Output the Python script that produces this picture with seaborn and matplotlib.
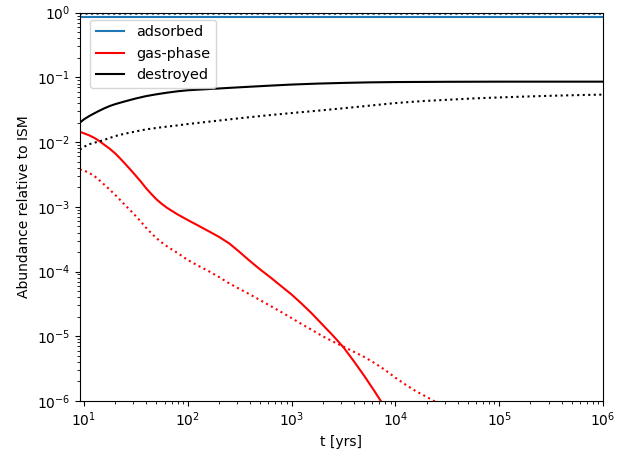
import matplotlib
matplotlib.use("Agg")
import matplotlib.pyplot as plt
import seaborn as sns

# ---------------------------------------------------------------------------
# Data
# ---------------------------------------------------------------------------

t_ads = [9.15, 1e6]
ads_solid = [0.87, 0.87]
ads_dotted = [0.94, 0.94]

t_gas_solid = [9.12, 11.2, 12.6, 14.1, 15.8, 17.8, 20.0, 22.4, 25.1, 28.2,
               31.6, 35.5, 39.8, 44.7, 50.1, 56.2, 63.1, 79.4, 100, 126,
               158, 200, 251, 316, 398, 501, 631, 794, 1000, 1259,
               1585, 1995, 2512, 3162, 3981, 5012, 6310, 7943]
gas_solid = [1.445e-2, 1.274e-2, 1.161e-2, 1.035e-2, 9.02e-3, 7.85e-3, 6.68e-3,
             5.56e-3, 4.57e-3, 3.72e-3, 3.02e-3, 2.43e-3, 1.93e-3, 1.57e-3,
             1.30e-3, 1.11e-3, 9.66e-4, 7.67e-4, 6.24e-4, 5.13e-4, 4.22e-4,
             3.43e-4, 2.72e-4, 2.00e-4, 1.45e-4, 1.07e-4, 8.04e-5, 5.96e-5,
             4.42e-5, 3.16e-5, 2.21e-5, 1.50e-5, 1.02e-5, 6.76e-6, 4.12e-6,
             2.45e-6, 1.41e-6, 7.94e-7]

t_gas_dotted = [9.12, 10.0, 11.2, 12.6, 14.1, 15.8, 17.8, 20.0, 22.4, 25.1,
                28.2, 31.6, 35.5, 39.8, 44.7, 50.1, 56.2, 63.1, 79.4, 100,
                126, 158, 200, 251, 316, 398, 501, 631, 794, 1000,
                1259, 1585, 1995, 2512, 3162, 3981, 5012, 6310, 7943, 10000,
                12589, 15849, 19953, 25119]
gas_dotted = [3.76e-3, 3.63e-3, 3.35e-3, 2.99e-3, 2.57e-3, 2.18e-3, 1.83e-3,
              1.53e-3, 1.27e-3, 1.05e-3, 8.71e-4, 7.19e-4, 5.86e-4, 4.73e-4,
              3.89e-4, 3.26e-4, 2.81e-4, 2.45e-4, 1.94e-4, 1.51e-4, 1.23e-4,
              1.02e-4, 8.22e-5, 6.56e-5, 5.37e-5, 4.42e-5, 3.59e-5, 2.92e-5,
              2.37e-5, 1.91e-5, 1.53e-5, 1.24e-5, 1.00e-5, 8.26e-6, 6.92e-6,
              5.75e-6, 4.79e-6, 3.85e-6, 3.02e-6, 2.29e-6, 1.78e-6, 1.41e-6,
              1.16e-6, 9.44e-7]

t_des_solid = [9.14, 10.0, 11.2, 12.6, 14.1, 15.8, 17.8, 20.0, 25.1, 31.6,
               39.8, 50.1, 63.1, 79.4, 100, 158, 251, 398, 631, 1000,
               1778, 3162, 5623, 10000, 31623, 100000, 1e6]
des_solid = [0.0199, 0.0224, 0.0251, 0.0278, 0.0305, 0.0333, 0.0361, 0.0385,
             0.0427, 0.0471, 0.0513, 0.0547, 0.0579, 0.0608, 0.0631, 0.0658,
             0.0687, 0.0716, 0.0745, 0.0773, 0.0800, 0.0820, 0.0836, 0.0845,
             0.0853, 0.0857, 0.0857]

t_des_dotted = [9.14, 10.0, 11.2, 12.6, 14.1, 15.8, 20.0, 25.1, 31.6, 39.8,
                56.2, 79.4, 100, 178, 316, 562, 1000, 1778, 3162, 5623,
                10000, 17783, 31623, 56234, 100000, 177828, 316228, 562341, 1e6]
des_dotted = [7.64e-3, 8.41e-3, 9.23e-3, 9.77e-3, 1.021e-2, 1.084e-2, 1.236e-2,
              1.352e-2, 1.459e-2, 1.570e-2, 1.694e-2, 1.807e-2, 1.897e-2,
              2.104e-2, 2.333e-2, 2.570e-2, 2.805e-2, 3.048e-2, 3.327e-2,
              3.648e-2, 4.000e-2, 4.285e-2, 4.498e-2, 4.721e-2, 4.887e-2,
              5.047e-2, 5.188e-2, 5.309e-2, 5.408e-2]

# ---------------------------------------------------------------------------
# Plot
# ---------------------------------------------------------------------------

fig, ax = plt.subplots(figsize=(6.34, 4.5), dpi=100)
fig.subplots_adjust(left=0.126, right=0.951, top=0.972, bottom=0.109)

sns.lineplot(x=t_ads, y=ads_solid, ax=ax, color="#1f77b4", lw=1.5, label="adsorbed")
sns.lineplot(x=t_gas_solid, y=gas_solid, ax=ax, color="red", lw=1.5, label="gas-phase")
sns.lineplot(x=t_des_solid, y=des_solid, ax=ax, color="black", lw=1.5, label="destroyed")

# dotted companions (no legend entry)
sns.lineplot(x=t_ads, y=ads_dotted, ax=ax, color="#1f77b4", lw=1.5, linestyle=":")
sns.lineplot(x=t_gas_dotted, y=gas_dotted, ax=ax, color="red", lw=1.5, linestyle=":")
sns.lineplot(x=t_des_dotted, y=des_dotted, ax=ax, color="black", lw=1.5, linestyle=":")

ax.set_xscale("log")
ax.set_yscale("log")
ax.set_xlim(9.15, 1e6)
ax.set_ylim(1e-6, 1)
ax.set_xlabel("t [yrs]")
ax.set_ylabel("Abundance relative to ISM")
ax.legend(loc="upper left", bbox_to_anchor=(0.019, 0.982), borderaxespad=0,
          fontsize=10.4)

plt.savefig("out.png", dpi=100)
plt.close()
